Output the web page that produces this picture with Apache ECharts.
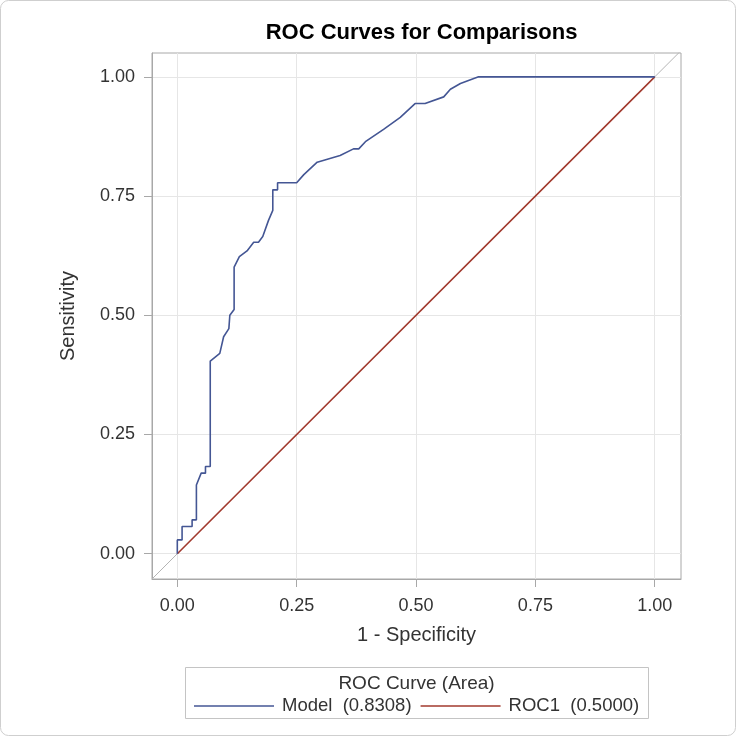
<!DOCTYPE html>
<html>
<head>
<meta charset="utf-8">
<script src="https://cdn.jsdelivr.net/npm/echarts@6/dist/echarts.min.js"></script>
<style>
  html, body { margin: 0; padding: 0; background: #ffffff; }
  #chart { width: 736px; height: 736px; }
</style>
</head>
<body>
<div id="chart"></div>
<script>
// ---- data ----
const seriesNames = ['Model', 'ROC1'];
const seriesAreas = ['0.8308', '0.5000'];
const modelX = [0, 0, 0.01, 0.01, 0.031, 0.031, 0.04, 0.04, 0.05, 0.059, 0.059, 0.069, 0.069, 0.089, 0.097, 0.108, 0.11, 0.119, 0.119, 0.13, 0.146, 0.16, 0.17, 0.179, 0.191, 0.2, 0.2, 0.21, 0.21, 0.25, 0.265, 0.293, 0.341, 0.369, 0.38, 0.394, 0.432, 0.467, 0.498, 0.519, 0.558, 0.572, 0.593, 0.631, 1];
const modelY = [0, 0.029, 0.029, 0.057, 0.057, 0.071, 0.071, 0.144, 0.169, 0.169, 0.183, 0.183, 0.404, 0.42, 0.455, 0.472, 0.5, 0.512, 0.601, 0.623, 0.635, 0.653, 0.653, 0.665, 0.699, 0.72, 0.763, 0.763, 0.778, 0.778, 0.795, 0.821, 0.835, 0.849, 0.849, 0.864, 0.89, 0.915, 0.944, 0.944, 0.958, 0.974, 0.986, 1, 1];
const roc1X = [0, 1];
const roc1Y = [0, 1];
const xTicks = [0, 0.25, 0.5, 0.75, 1];
const yTicks = [0, 0.25, 0.5, 0.75, 1];
const xRange = [-0.053, 1.055];
const yRange = [-0.053, 1.05];

const FONT = '"Liberation Sans", Arial, sans-serif';
const zip = (xs, ys) => xs.map((x, i) => [x, ys[i]]);
const areaOf = name => seriesAreas[seriesNames.indexOf(name)];

const chart = echarts.init(document.getElementById('chart'), null, { renderer: 'canvas' });

const option = {
  animation: false,
  backgroundColor: '#ffffff',
  textStyle: { fontFamily: FONT },
  title: [{
    text: 'ROC Curves for Comparisons',
    left: 416.5, top: 17, textAlign: 'center',
    textStyle: { fontFamily: FONT, fontSize: 22, fontWeight: 'bold', color: '#000000' }
  }],
  grid: {
    left: 152, right: 55, top: 53, bottom: 157,
    show: true, borderColor: '#a8a8a8', borderWidth: 1, backgroundColor: 'transparent'
  },
  xAxis: {
    type: 'value', min: xRange[0], max: xRange[1],
    name: '1 - Specificity', nameLocation: 'middle', nameGap: 46,
    nameTextStyle: { fontFamily: FONT, fontSize: 20, color: '#333333' },
    axisLine: { show: true, onZero: false, lineStyle: { color: '#a8a8a8' } },
    axisTick: { show: true, length: 8, customValues: xTicks, lineStyle: { color: '#a8a8a8' } },
    axisLabel: { customValues: xTicks, margin: 18, fontFamily: FONT, fontSize: 18, color: '#333333',
                 formatter: v => v.toFixed(2) },
    splitLine: { show: false }
  },
  yAxis: {
    type: 'value', min: yRange[0], max: yRange[1],
    name: 'Sensitivity', nameLocation: 'middle', nameGap: 74, nameRotate: 90,
    nameTextStyle: { fontFamily: FONT, fontSize: 20, color: '#333333' },
    axisLine: { show: true, onZero: false, lineStyle: { color: '#a8a8a8' } },
    axisTick: { show: true, length: 8, customValues: yTicks, lineStyle: { color: '#a8a8a8' } },
    axisLabel: { customValues: yTicks, margin: 17, fontFamily: FONT, fontSize: 18, color: '#333333',
                 formatter: v => v.toFixed(2) },
    splitLine: { show: false }
  },
  legend: {
    data: seriesNames,
    left: 194, top: 696, padding: 0,
    icon: 'rect', itemWidth: 80, itemHeight: 1.6, itemGap: 9,
    formatter: name => name + '  (' + areaOf(name) + ')',
    textStyle: { fontFamily: FONT, fontSize: 18.5, color: '#333333', lineHeight: 20, padding: [0, 0, 0, 3] }
  },
  graphic: [
    { type: 'rect', silent: true, z: -10,
      shape: { x: 0.5, y: 0.5, width: 735, height: 735, r: 8 },
      style: { fill: 'none', stroke: '#cfcfcf', lineWidth: 1 } },
    { type: 'rect', silent: true,
      shape: { x: 185.5, y: 667.5, width: 463, height: 51 },
      style: { fill: 'none', stroke: '#c4c4c4', lineWidth: 1 } },
    { type: 'text', silent: true, x: 416.5, y: 684,
      style: { text: 'ROC Curve (Area)', fontFamily: FONT, fontSize: 19, fill: '#333333',
               textAlign: 'center', textVerticalAlign: 'middle' } }
  ],
  series: [
    {
      name: 'ref', type: 'line', silent: true, symbol: 'none', clip: true,
      data: [[xRange[0], xRange[0]], [xRange[1], xRange[1]]],
      lineStyle: { color: '#b4b4b4', width: 1 }, z: 1,
      markLine: {
        z: 0, silent: true, symbol: ['none', 'none'], animation: false,
        label: { show: false },
        lineStyle: { color: '#e6e6e6', type: 'solid', width: 1 },
        emphasis: { disabled: true },
        data: xTicks.map(v => ({ xAxis: v })).concat(yTicks.map(v => ({ yAxis: v })))
      }
    },
    {
      name: 'ROC1', type: 'line', symbol: 'none', clip: true,
      data: zip(roc1X, roc1Y),
      lineStyle: { color: '#a23a2e', width: 1.6 }, itemStyle: { color: '#a23a2e' }, z: 3
    },
    {
      name: 'Model', type: 'line', symbol: 'none', clip: true,
      data: zip(modelX, modelY),
      lineStyle: { color: '#445694', width: 1.6 }, itemStyle: { color: '#445694' }, z: 4
    }
  ]
};
chart.setOption(option);
</script>
</body>
</html>
